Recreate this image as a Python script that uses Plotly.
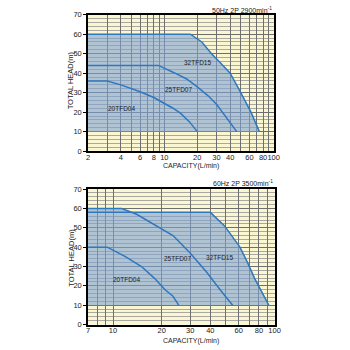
import numpy as np
import plotly.graph_objects as go

# ---- 50Hz 2P 2900 min^-1 performance curves ----
q20_50 = [2, 3, 4, 6, 8, 10, 12, 14, 17, 20]
h20_50 = [36, 36, 34, 30.5, 27.5, 24.5, 22, 19.5, 15, 10]
q25_50 = [2, 8.8, 12, 16, 20, 25, 30, 38, 46]
h25_50 = [44, 44, 40.5, 37, 33, 28.5, 24, 16.5, 10]
q32_50 = [2, 17.3, 22, 27, 33, 40, 50, 62, 74]
h32_50 = [60, 60, 56, 50, 45, 40, 30, 20, 10]

# ---- 60Hz 2P 3500 min^-1 performance curves ----
q20_60 = [7, 9.2, 10, 12, 15, 18, 21, 23.5, 25.5]
h20_60 = [40, 40, 38.5, 35, 30, 24, 18, 14.6, 10]
q25_60 = [7, 11.3, 14, 17, 20, 23.5, 30, 38, 46, 55]
h25_60 = [60, 60, 57, 53, 49.5, 46, 37, 27, 18, 10]
q32_60 = [7, 40, 49, 61, 68, 75, 92]
h32_60 = [58, 58, 51, 40, 32, 24, 10]

models = ["20TFD04", "25TFD07", "32TFD15"]

ticks_50 = [2, 3, 4, 5, 6, 7, 8, 9, 10, 20, 30, 40, 50, 60, 70, 80, 90, 100]
labels_50 = ["2", "", "4", "", "6", "", "8", "", "10", "20", "30", "40", "", "60", "", "80", "", "100"]
ticks_60 = [7, 8, 9, 10, 20, 30, 40, 50, 60, 70, 80, 90, 100]
labels_60 = ["7", "", "", "10", "20", "30", "40", "", "60", "", "80", "", "100"]

LINE = "#2f78be"
FILL = "rgba(125,161,212,0.6)"
BG = "#faf6d2"
FONT = "Liberation Sans, Arial, sans-serif"
TXT = "#222"

W = H = 350
top_dom = [1 - 151 / H, 1 - 11 / H]
bot_dom = [1 - 329 / H, 1 - 190 / H]
x_dom_top = [88 / W, 278 / W]
x_dom_bot = [88 / W, 279 / W]

fig = go.Figure()


def envelope(curves, floor=10):
    """Upper outline of the operating range: max of all curves above the floor."""
    lo = min(min(q) for q, _ in curves)
    hi = max(max(q) for q, _ in curves)
    xs = np.unique(np.concatenate([np.geomspace(lo, hi, 300)] +
                                  [np.array(q, float) for q, _ in curves]))
    lx = np.log10(xs)
    env = np.zeros_like(xs)
    for q, h in curves:
        env = np.maximum(env, np.interp(lx, np.log10(q), h, left=0, right=0))
    keep = env >= floor - 1e-9
    xs, env = xs[keep], env[keep]
    return list(xs) + list(xs[::-1]), list(env) + [floor] * len(xs)


def add_panel(curves, xa, ya):
    px, py = envelope(curves)
    fig.add_trace(go.Scatter(x=px, y=py, xaxis=xa, yaxis=ya, mode="lines", fill="toself",
                             fillcolor=FILL, line=dict(width=0), hoverinfo="skip", showlegend=False))
    for (q, h), name in zip(curves, models):
        fig.add_trace(go.Scatter(x=q, y=h, xaxis=xa, yaxis=ya, mode="lines", name=name,
                                 line=dict(color=LINE, width=1.5), showlegend=False))


add_panel([(q20_50, h20_50), (q25_50, h25_50), (q32_50, h32_50)], "x", "y")
add_panel([(q20_60, h20_60), (q25_60, h25_60), (q32_60, h32_60)], "x2", "y2")

tickfont = dict(size=7.5, color=TXT, family=FONT)
xcommon = dict(type="log", showgrid=True, gridcolor="#6e6e6e", gridwidth=1,
               showline=True, linecolor="black", linewidth=1.5, mirror=True,
               ticks="", tickangle=0, tickfont=tickfont, zeroline=False,
               ticklabelstandoff=-2)
ycommon = dict(range=[0, 70], dtick=10, showgrid=True, gridcolor="#6e6e6e", gridwidth=1,
               minor=dict(dtick=2, showgrid=True, gridcolor="#a8a8a0", gridwidth=1),
               showline=True, linecolor="black", linewidth=1.5, mirror=True,
               ticks="outside", ticklen=3, tickcolor="black",
               tickfont=tickfont, zeroline=False)

fig.update_layout(
    width=W, height=H, margin=dict(l=0, r=0, t=0, b=0),
    paper_bgcolor="white", plot_bgcolor=BG,
    xaxis=dict(xcommon, domain=x_dom_top, anchor="y", range=[np.log10(2), 2],
               tickvals=ticks_50, ticktext=labels_50),
    yaxis=dict(ycommon, domain=top_dom, anchor="x"),
    xaxis2=dict(xcommon, domain=x_dom_bot, anchor="y2", range=[np.log10(7), 2],
                tickvals=ticks_60, ticktext=labels_60),
    yaxis2=dict(ycommon, domain=bot_dom, anchor="x2"),
)

lab = dict(size=6.5, color=TXT, family=FONT)
ann = [
    dict(x=np.log10(20.1), y=45.5, xref="x", yref="y", text="32TFD15"),
    dict(x=np.log10(13.6), y=31.5, xref="x", yref="y", text="25TFD07"),
    dict(x=np.log10(4.03), y=22, xref="x", yref="y", text="20TFD04"),
    dict(x=np.log10(45.8), y=34.7, xref="x2", yref="y2", text="32TFD15"),
    dict(x=np.log10(25.0), y=34.2, xref="x2", yref="y2", text="25TFD07"),
    dict(x=np.log10(12.2), y=23.2, xref="x2", yref="y2", text="20TFD04"),
]
for a in ann:
    fig.add_annotation(**a, showarrow=False, font=lab)

small = dict(size=7, color=TXT, family=FONT)
fig.add_annotation(x=278 / W, y=1 - 6 / H, xref="paper", yref="paper", xanchor="right",
                   yanchor="middle", showarrow=False, text="50Hz 2P 2900min<sup>-1</sup>", font=small)
fig.add_annotation(x=279 / W, y=1 - 184 / H, xref="paper", yref="paper", xanchor="right",
                   yanchor="middle", showarrow=False, text="60Hz 2P 3500min<sup>-1</sup>", font=small)
for yc in (166.5, 345.5):
    fig.add_annotation(x=193 / W, y=1 - yc / H, xref="paper", yref="paper", xanchor="center",
                       yanchor="middle", showarrow=False, text="CAPACITY(L/min)", font=small,
                       borderpad=0)
for yc in (78, 260):
    fig.add_annotation(x=71 / W, y=1 - yc / H, xref="paper", yref="paper", xanchor="center",
                       yanchor="middle", showarrow=False, text="TOTAL HEAD(m)", textangle=-90,
                       font=dict(size=7.5, color=TXT, family=FONT))

fig.write_html("out.html")
